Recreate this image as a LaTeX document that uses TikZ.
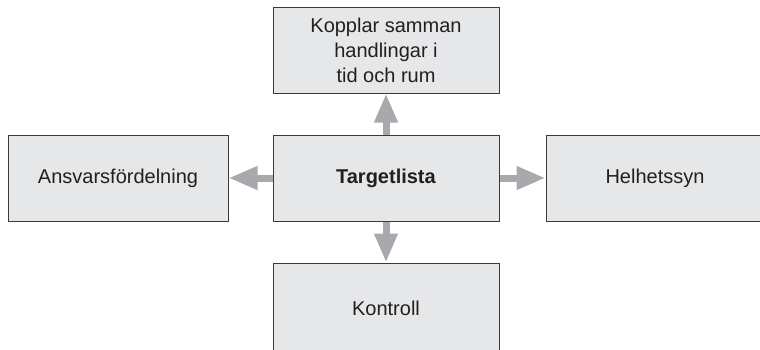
\documentclass[tikz,border=0pt]{standalone}
\usepackage{fontspec}
\setmainfont{Liberation Sans}
\usetikzlibrary{arrows.meta}
\definecolor{boxgray}{HTML}{E6E7E8}
\definecolor{arrowgray}{HTML}{A7A9AC}
\definecolor{linegray}{HTML}{3A3A3A}
\definecolor{textgray}{HTML}{231F20}

\tikzset{
box/.style={draw=linegray,line width=1pt,fill=boxgray,text=textgray,align=center,
  minimum height=86pt,inner sep=0pt,font=\fontsize{20}{25}\selectfont},
flow/.style={arrowgray,line width=7pt,-{Triangle[length=29pt,width=22pt]}}
}

\begin{document}
\begin{tikzpicture}[x=1pt,y=-1pt]
\useasboundingbox (0,0) rectangle (760,349);
\clip (0,0) rectangle (760,349);

\node[box,minimum width=226pt] (mid) at (386,178) {\textbf{Targetlista}};
\node[box,minimum width=226pt] (top) at (386,50) {Kopplar samman\\handlingar i\\tid och rum};
\node[box,minimum width=220pt] (left) at (118,178) {Ansvarsfördelning};
\node[box,minimum width=218pt] (right) at (655,178) {Helhetssyn};
\node[box,minimum width=226pt,minimum height=90pt] (bottom) at (386,308) {Kontroll};

\draw[flow] (mid.north)--(top.south);
\draw[flow] (mid.west)--(left.east);
\draw[flow] (mid.east)--(right.west);
\draw[flow] (mid.south)--(bottom.north);
\end{tikzpicture}
\end{document}
